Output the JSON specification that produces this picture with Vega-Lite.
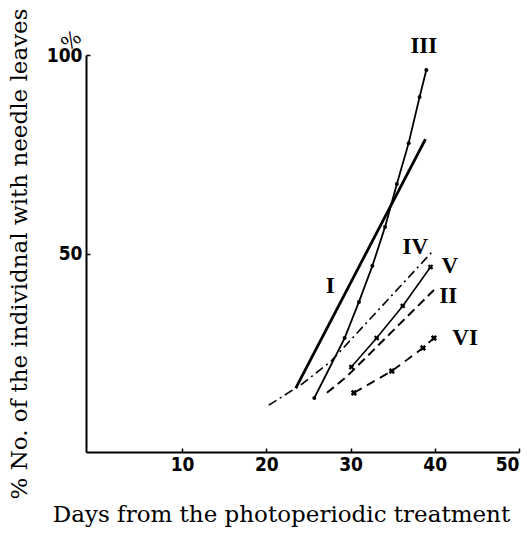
{
  "$schema": "https://vega.github.io/schema/vega-lite/v6.json",
  "width": 433,
  "height": 397,
  "autosize": {"type": "none"},
  "padding": {"left": 86, "top": 55, "right": 10, "bottom": 85},
  "background": "white",
  "config": {
    "view": {"stroke": null},
    "axis": {
      "domainColor": "black",
      "domainWidth": 2,
      "tickColor": "black",
      "tickWidth": 1.5,
      "grid": false,
      "labelColor": "black",
      "labelFont": "Liberation Sans Narrow, DejaVu Sans Condensed, DejaVu Sans, sans-serif",
      "labelFontWeight": "bold",
      "labelFontSize": 19,
      "titleColor": "black",
      "titleFont": "DejaVu Serif, Liberation Serif, serif",
      "titleFontWeight": "normal",
      "titleFontSize": 23
    }
  },
  "datasets": {
    "curves": [
      {"series": "I", "day": 23.5, "pct": 16.1},
      {"series": "I", "day": 38.9, "pct": 78.8},
      {"series": "III", "day": 25.7, "pct": 13.6},
      {"series": "III", "day": 29.3, "pct": 28.7},
      {"series": "III", "day": 31.0, "pct": 37.8},
      {"series": "III", "day": 32.6, "pct": 46.9},
      {"series": "III", "day": 34.1, "pct": 56.7},
      {"series": "III", "day": 35.5, "pct": 67.5},
      {"series": "III", "day": 36.9, "pct": 77.8},
      {"series": "III", "day": 38.2, "pct": 89.4},
      {"series": "III", "day": 39.0, "pct": 96.2},
      {"series": "IV", "day": 20.3, "pct": 11.8},
      {"series": "IV", "day": 24.1, "pct": 16.9},
      {"series": "IV", "day": 27.7, "pct": 22.9},
      {"series": "IV", "day": 39.9, "pct": 50.9},
      {"series": "V", "day": 30.1, "pct": 21.4},
      {"series": "V", "day": 33.1, "pct": 28.7},
      {"series": "V", "day": 36.2, "pct": 36.8},
      {"series": "V", "day": 39.5, "pct": 46.6},
      {"series": "II", "day": 27.2, "pct": 14.9},
      {"series": "II", "day": 29.6, "pct": 19.1},
      {"series": "II", "day": 39.9, "pct": 40.8},
      {"series": "VI", "day": 30.4, "pct": 14.9},
      {"series": "VI", "day": 34.9, "pct": 20.4},
      {"series": "VI", "day": 38.6, "pct": 26.2},
      {"series": "VI", "day": 39.9, "pct": 28.7}
    ],
    "labels": [
      {"text": "III", "day": 38.7, "pct": 102.3},
      {"text": "I", "day": 27.6, "pct": 41.8},
      {"text": "IV", "day": 37.7, "pct": 51.6},
      {"text": "V", "day": 41.8, "pct": 46.9},
      {"text": "II", "day": 41.6, "pct": 39.3},
      {"text": "VI", "day": 43.6, "pct": 28.7}
    ],
    "unit": [
      {"text": "%", "day": -3.1, "pct": 103.5}
    ]
  },
  "data": {"name": "curves"},
  "encoding": {
    "x": {
      "field": "day", "type": "quantitative",
      "scale": {"domain": [-1.4, 50], "nice": false, "zero": false},
      "axis": {"values": [10, 20, 30, 40, 50], "tickSize": -4, "labelPadding": 7, "title": "Days from the photoperiodic treatment", "titlePadding": 29, "titleX": 195}
    },
    "y": {
      "field": "pct", "type": "quantitative",
      "scale": {"domain": [0, 100], "nice": false},
      "axis": {"values": [50, 100], "tickSize": -4, "labelPadding": 8, "title": "% No. of the individnal with needle leaves", "titlePadding": 15}
    }
  },
  "layer": [
    {"transform": [{"filter": "datum.series === 'I'"}], "mark": {"type": "line", "color": "black", "strokeWidth": 2.8}},
    {"transform": [{"filter": "datum.series === 'III'"}], "mark": {"type": "line", "color": "black", "strokeWidth": 1.8}},
    {"transform": [{"filter": "datum.series === 'III'"}], "mark": {"type": "point", "shape": "circle", "filled": true, "color": "black", "size": 16, "opacity": 1}},
    {"transform": [{"filter": "datum.series === 'IV'"}], "mark": {"type": "line", "color": "black", "strokeWidth": 1.6, "strokeDash": [9, 4, 2, 4]}},
    {"transform": [{"filter": "datum.series === 'V'"}], "mark": {"type": "line", "color": "black", "strokeWidth": 1.6}},
    {"transform": [{"filter": "datum.series === 'V'"}], "mark": {"type": "point", "shape": "cross", "angle": 45, "filled": true, "color": "black", "size": 30, "opacity": 1}},
    {"transform": [{"filter": "datum.series === 'II'"}], "mark": {"type": "line", "color": "black", "strokeWidth": 2, "strokeDash": [9, 5]}},
    {"transform": [{"filter": "datum.series === 'VI'"}], "mark": {"type": "line", "color": "black", "strokeWidth": 1.8, "strokeDash": [9, 6]}},
    {"transform": [{"filter": "datum.series === 'VI'"}], "mark": {"type": "point", "shape": "cross", "angle": 45, "filled": true, "color": "black", "size": 40, "opacity": 1}},
    {
      "data": {"name": "labels"},
      "mark": {"type": "text", "font": "Liberation Serif, DejaVu Serif, serif", "fontWeight": "bold", "fontSize": 23, "color": "black"},
      "encoding": {"text": {"field": "text"}}
    },
    {
      "data": {"name": "unit"},
      "mark": {"type": "text", "font": "DejaVu Serif, serif", "fontSize": 20, "angle": 320, "color": "black"},
      "encoding": {"text": {"field": "text"}}
    }
  ]
}
